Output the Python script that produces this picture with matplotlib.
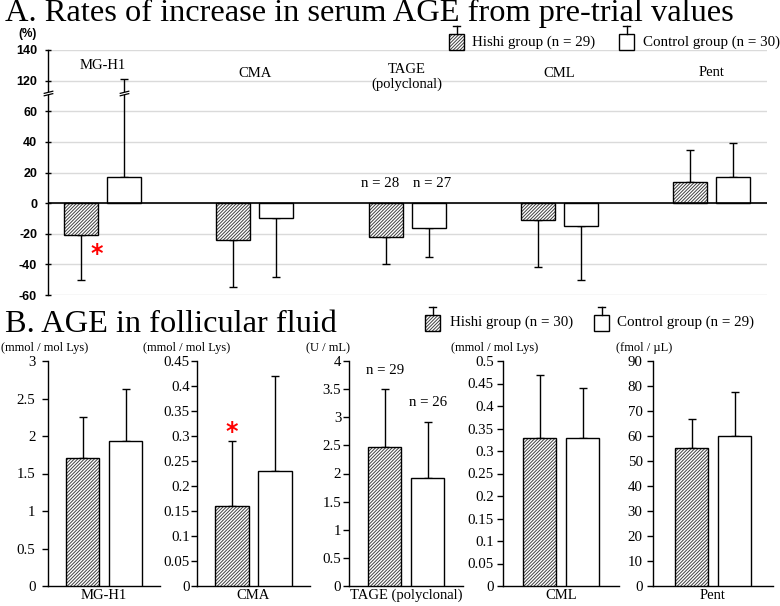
import numpy as np
import matplotlib
matplotlib.use('Agg')
import matplotlib.pyplot as plt
from matplotlib.path import Path
from matplotlib.patches import Rectangle
from matplotlib.lines import Line2D
from matplotlib.ticker import FuncFormatter

# ---------------- data: panel A (rate of increase from pre-trial, %) ----------------
a_categories = ['MG-H1', 'CMA', 'TAGE\n(polyclonal)', 'CML', 'Pent']
a_hishi_mean = [-21, -24, -22, -11, 14]
a_hishi_err_end = [-50, -55, -40, -42, 34.5]
a_control_mean = [17, -10, -16, -15, 17]
a_control_err_end = [121, -48, -35, -50, 39.5]
a_yticks = [-60, -40, -20, 0, 20, 40, 60, 120, 140]
a_legend = ['Hishi group (n = 29)', 'Control group (n = 30)']
a_n_labels = ['n = 28', 'n = 27']

# ---------------- data: panel B (AGE in follicular fluid) ----------------
b_categories = ['MG-H1', 'CMA', 'TAGE (polyclonal)', 'CML', 'Pent']
b_units = ['(mmol / mol Lys)', '(mmol / mol Lys)', '(U / mL)', '(mmol / mol Lys)', '(fmol / \u00b5L)']
b_hishi_mean = [1.71, 0.16, 2.48, 0.33, 55.3]
b_hishi_err_end = [2.25, 0.29, 3.5, 0.47, 67]
b_control_mean = [1.93, 0.23, 1.92, 0.33, 60.2]
b_control_err_end = [2.63, 0.42, 2.92, 0.44, 77.5]
b_ymax = [3, 0.45, 4, 0.5, 90]
b_ystep = [0.5, 0.05, 0.5, 0.05, 10]
b_legend = ['Hishi group (n = 30)', 'Control group (n = 29)']
b_n_labels = ['n = 29', 'n = 26']

# ---------------- styling / layout ----------------
W, H = 780, 606
SERIF = 'Liberation Serif'
SANS = 'Liberation Sans'
plt.rcParams['font.family'] = SERIF
plt.rcParams['hatch.linewidth'] = 0.7
HATCH = '//////////'
HATCH_COLOR = '#404040'
GRID = '#dadada'


def fx(x):
    return x / W


def fy(y):
    return 1 - y / H


fig = plt.figure(figsize=(W / 100, H / 100), dpi=100)


def draw_bars(ax, xs, heights, width, hatched):
    if hatched:
        ax.bar(xs, heights, width, color='white', edgecolor=HATCH_COLOR,
               linewidth=0, hatch=HATCH, zorder=3)
        ax.bar(xs, heights, width, fill=False, edgecolor='black', linewidth=1, zorder=4)
    else:
        ax.bar(xs, heights, width, color='white', edgecolor='black', linewidth=1, zorder=3)


def draw_err(ax, xs, means, ends):
    lo = [max(m - e, 0) for m, e in zip(means, ends)]
    hi = [max(e - m, 0) for m, e in zip(means, ends)]
    ax.errorbar(xs, means, yerr=[lo, hi], fmt='none', ecolor='black',
                elinewidth=1, capsize=3, capthick=1, zorder=2)


def star(ax, x, y):
    ax.annotate('*', xy=(x, y), xytext=(0, -8.5), textcoords='offset points',
                ha='center', va='baseline', color='red', fontsize=17,
                family='DejaVu Sans', fontweight='bold', zorder=6)


# ---------------- Panel A ----------------
def fwd(v):
    v = np.asarray(v, dtype=float)
    return np.where(v <= 60, v, np.where(v <= 120, 60 + (v - 60) / 3.0, v - 40))


def inv(t):
    t = np.asarray(t, dtype=float)
    return np.where(t <= 60, t, np.where(t <= 80, 60 + (t - 60) * 3.0, t + 40))


axA = fig.add_axes([fx(48), fy(295), fx(767) - fx(48), (295 - 50) / H])
axA.set_yscale('function', functions=(fwd, inv))
axA.set_ylim(-60, 140)
axA.set_xlim(-0.358, 4.363)

xa = np.arange(len(a_categories))
off_a, bw_a = 0.141, 0.223
draw_err(axA, xa - off_a, a_hishi_mean, a_hishi_err_end)
draw_err(axA, xa + off_a, a_control_mean, a_control_err_end)
draw_bars(axA, xa - off_a, a_hishi_mean, bw_a, True)
draw_bars(axA, xa + off_a, a_control_mean, bw_a, False)

axA.set_yticks(a_yticks)
axA.set_yticklabels([str(v) for v in a_yticks], fontfamily=SANS, fontsize=9, fontweight='bold')
axA.tick_params(axis='y', direction='inout', length=5, width=1, pad=5.4)
axA.set_xticks([])
for s in ['top', 'right', 'bottom']:
    axA.spines[s].set_visible(False)
axA.spines['left'].set_linewidth(1)
axA.yaxis.grid(True, color=GRID, linewidth=1)
axA.set_axisbelow(True)
axA.axhline(0, color='black', linewidth=1.2, zorder=4.5)

# category labels in panel A
a_label_yfrac = [0.935, 0.906, 0.89, 0.906, 0.91]
for x, lab, yf in zip(xa, a_categories, a_label_yfrac):
    axA.text(x, yf, lab, transform=axA.get_xaxis_transform(), ha='center', va='center',
             fontsize=10.5, multialignment='center', linespacing=1.15)

# n labels on TAGE
axA.text(xa[2] - off_a - 0.035, 13, a_n_labels[0], ha='center', va='center', fontsize=10.7)
axA.text(xa[2] + off_a + 0.02, 13, a_n_labels[1], ha='center', va='center', fontsize=10.7)

# significance star
star(axA, xa[0] - 0.036, -30)

# axis break marks
stroke = Path([(-1, -0.5), (1, 0.0), (-1, 0.0), (1, 0.5)],
              [Path.MOVETO, Path.LINETO, Path.MOVETO, Path.LINETO])
gap = Path([(-1, -0.5), (1, 0.0), (1, 0.5), (-1, 0.0), (-1, -0.5)],
           [Path.MOVETO, Path.LINETO, Path.LINETO, Path.LINETO, Path.CLOSEPOLY])
for xx, tr in [(0, axA.get_yaxis_transform()), (xa[0] + off_a, axA.transData)]:
    axA.plot([xx], [95], marker=gap, markersize=7, color='white', markeredgewidth=0,
             transform=tr, clip_on=False, zorder=7, linestyle='none')
    axA.plot([xx], [95], marker=stroke, markersize=7, color='black', markeredgewidth=0.9,
             transform=tr, clip_on=False, zorder=8, linestyle='none')

fig.text(fx(37), fy(33.5), '(%)', ha='right', va='center', family=SANS, fontsize=8.5,
         fontweight='bold')
fig.text(fx(5), fy(21.5), 'A. Rates of increase in serum AGE from pre-trial values',
         ha='left', va='baseline', fontsize=23.3)

# ---------------- Panel B ----------------
b_spine_x = [48, 197, 349, 503, 653]
b_width = [112, 113, 114, 116, 120]
b_unit_x = [45, 187, 328, 495, 644]
b_pad = [5.0, 1.2, 1.5, 2.5, 3.5]
PX_PER_UNIT = 43.0

fig.text(fx(5), fy(331.5), 'B. AGE in follicular fluid', ha='left', va='baseline', fontsize=23.3)

for i in range(5):
    ax = fig.add_axes([fx(b_spine_x[i]), fy(586), b_width[i] / W, (586 - 361) / H])
    half = b_width[i] / 2 / PX_PER_UNIT
    ax.set_xlim(-half, half)
    ax.set_ylim(0, b_ymax[i])
    draw_err(ax, [-0.5], [b_hishi_mean[i]], [b_hishi_err_end[i]])
    draw_err(ax, [0.5], [b_control_mean[i]], [b_control_err_end[i]])
    draw_bars(ax, [-0.5], [b_hishi_mean[i]], 0.79, True)
    draw_bars(ax, [0.5], [b_control_mean[i]], 0.79, False)
    ticks = np.round(np.arange(0, b_ymax[i] + b_ystep[i] / 2, b_ystep[i]), 4)
    ax.set_yticks(ticks)
    ax.yaxis.set_major_formatter(FuncFormatter(lambda v, p: f'{round(v, 4):g}'))
    ax.tick_params(axis='y', direction='out', length=4, width=1, pad=b_pad[i], labelsize=10.7)
    ax.set_xticks([0])
    ax.set_xticklabels([b_categories[i]], fontsize=10.5)
    ax.tick_params(axis='x', length=0, pad=2)
    for s in ['top', 'right']:
        ax.spines[s].set_visible(False)
    for s in ['left', 'bottom']:
        ax.spines[s].set_linewidth(1)
    fig.text(fx(b_unit_x[i]), fy(348), b_units[i], ha='center', va='center', fontsize=9)
    if i == 1:
        star(ax, -0.5, 0.318)
    if i == 2:
        ax.text(-0.48, 3.83, b_n_labels[0], ha='center', va='center', fontsize=10.7)
        ax.text(0.52, 3.27, b_n_labels[1], ha='center', va='center', fontsize=10.7)

# ---------------- Legends (overlay in pixel space) ----------------
ov = fig.add_axes([0, 0, 1, 1], zorder=10)
ov.set_xlim(0, W)
ov.set_ylim(H, 0)
ov.axis('off')


def swatch(x0, y0, hatched):
    if hatched:
        ov.add_patch(Rectangle((x0, y0), 15, 16, facecolor='white', edgecolor=HATCH_COLOR,
                               linewidth=0, hatch=HATCH))
    ov.add_patch(Rectangle((x0, y0), 15, 16, fill=not hatched, facecolor='white',
                           edgecolor='black', linewidth=1))
    cx = x0 + 7.5
    ov.add_line(Line2D([cx, cx], [y0, y0 - 8], color='black', linewidth=1))
    ov.add_line(Line2D([cx - 3.5, cx + 3.5], [y0 - 8, y0 - 8], color='black', linewidth=1))


for (sx, tx), lab, hat in zip([(449, 472), (619, 643)], a_legend, [True, False]):
    swatch(sx, 34, hat)
    ov.text(tx, 42, lab, ha='left', va='center', fontsize=10.8)

for (sx, tx), lab, hat in zip([(425, 450), (594, 617)], b_legend, [True, False]):
    swatch(sx, 315, hat)
    ov.text(tx, 322, lab, ha='left', va='center', fontsize=10.8)

fig.savefig('out.png', dpi=100)
